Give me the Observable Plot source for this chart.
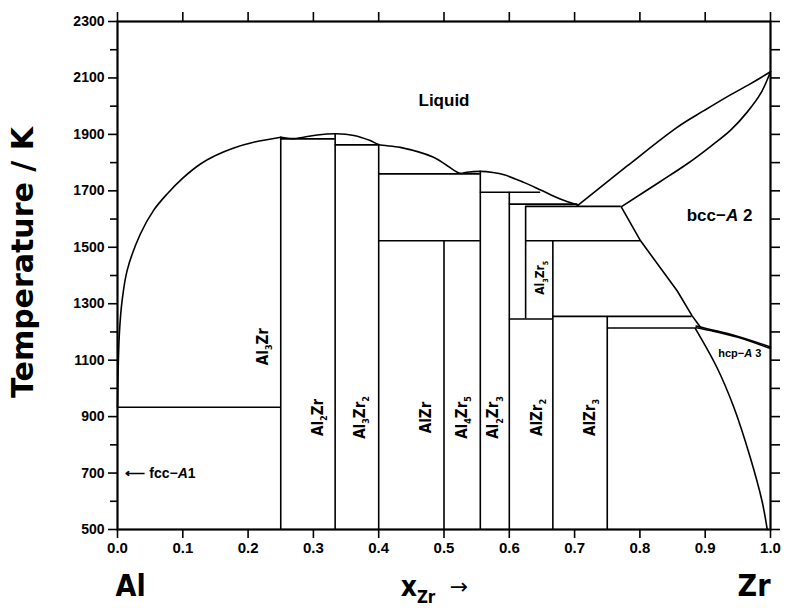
<!DOCTYPE html>
<html><head><meta charset="utf-8">
<script src="https://cdn.jsdelivr.net/npm/d3@7"></script>
<script src="https://cdn.jsdelivr.net/npm/@observablehq/plot@0.6"></script>
<style>body{margin:0;background:#fff;}</style>
</head><body><div id="chart"></div>
<script>
// ---- data (x = mole fraction Zr, T = temperature / K) ----
const liquidusAl = [[0,933],[0.001,1070],[0.003,1200],[0.007,1310],[0.015,1420],[0.035,1547],[0.055,1630],[0.076,1689],[0.1,1745],[0.127,1795],[0.15,1825],[0.178,1852],[0.21,1873],[0.25,1890]];
const liquidusMid = [[0.25,1890],[0.268,1885],[0.285,1890],[0.306,1898],[0.335,1902],[0.362,1896],[0.387,1878],[0.40,1864],[0.433,1854],[0.484,1819],[0.505,1789],[0.525,1762],[0.535,1766],[0.556,1769],[0.575,1765],[0.592,1757],[0.622,1730],[0.648,1703],[0.678,1671],[0.705,1650]];
const liquidusBcc = [[0.704,1647],[0.781,1789],[0.857,1925],[0.898,1984],[0.934,2034],[0.969,2079],[1.0,2122]];
const solidusBcc = [[0.773,1646],[0.832,1734],[0.872,1795],[0.908,1857],[0.939,1915],[0.964,1978],[0.985,2045],[1.0,2122]];
const solvusBcc = [[0.771,1645],[0.801,1523],[0.857,1346],[0.88,1257],[0.893,1216]];
const bccHcpUpper = [[0.886,1221],[0.90,1213],[0.94,1191],[1.0,1147]];
const bccHcpLower = [[0.886,1215],[0.91,1204],[0.95,1181],[1.0,1141]];
const solvusHcp = [[0.885,1212],[0.918,1074],[0.944,932],[0.969,755],[0.987,601],[0.995,500]];

const compoundLines = [
  {x:0.25, t1:500, t2:1890},
  {x:0.3333, t1:500, t2:1901},
  {x:0.40, t1:500, t2:1863},
  {x:0.50, t1:500, t2:1523},
  {x:0.5556, t1:500, t2:1769},
  {x:0.60, t1:500, t2:1695},
  {x:0.625, t1:1246, t2:1645},
  {x:0.6667, t1:500, t2:1523},
  {x:0.75, t1:500, t2:1255}
];
const invariantLines = [
  {t:933, x1:0, x2:0.25},
  {t:1884, x1:0.25, x2:0.3333},
  {t:1863, x1:0.3333, x2:0.40},
  {t:1760, x1:0.40, x2:0.5556},
  {t:1523, x1:0.40, x2:0.5556},
  {t:1695, x1:0.5556, x2:0.648},
  {t:1653, x1:0.60, x2:0.705},
  {t:1645, x1:0.625, x2:0.771},
  {t:1523, x1:0.625, x2:0.801},
  {t:1246, x1:0.60, x2:0.6667},
  {t:1255, x1:0.6667, x2:0.88},
  {t:1214, x1:0.75, x2:0.886}
];

const phaseLabels = [
  {x:0.2226, t:1148, s:"Al_{3}Zr"},
  {x:0.307, t:897, s:"Al_{2}Zr"},
  {x:0.372, t:897, s:"Al_{3}Zr_{2}"},
  {x:0.473, t:897, s:"AlZr"},
  {x:0.528, t:897, s:"Al_{4}Zr_{5}"},
  {x:0.576, t:897, s:"Al_{2}Zr_{3}"},
  {x:0.643, t:897, s:"AlZr_{2}"},
  {x:0.724, t:897, s:"AlZr_{3}"}
];
const smallPhaseLabels = [{x:0.648, t:1392, s:"Al_{3}Zr_{5}"}];
const regionLabels = [
  {x:0.5, t:2020, s:"Liquid", size:17},
  {x:0.922, t:1612, s:"bcc−*A* 2", size:17}
];
const hcpLabel = [{x:0.953, t:1122, s:"hcp−*A* 3"}];
const fccLabel = [{x:0.012, t:700, s:"⟵ fcc−*A*1"}];

const xTicks = d3.range(0, 11).map(i => i / 10);
const yMajor = d3.range(500, 2301, 200);
const yMinor = d3.range(600, 2300, 200);
const yAll = d3.range(500, 2301, 100);

const lineOpts = {x: d => d[0], y: d => d[1], stroke: "black", strokeWidth: 1.6};
const curveOpts = {...lineOpts, curve: "catmull-rom"};
const narrow = "'DejaVu Sans Condensed', 'Liberation Sans Narrow', 'Liberation Sans', sans-serif";

const chart = Plot.plot({
  width: 788, height: 613,
  marginLeft: 117, marginRight: 18, marginTop: 21, marginBottom: 84,
  x: {domain: [0, 1]},
  y: {domain: [500, 2300]},
  style: {fontFamily: "'Liberation Sans', Arial, sans-serif", fontSize: "14px", fontWeight: "bold", background: "white", color: "black"},
  marks: [
    Plot.axisX({ticks: xTicks, tickFormat: d3.format(".1f"), tickSize: 9, tickPadding: 4, label: null, fontSize: 15, strokeWidth: 1.6}),
    Plot.axisX({anchor: "top", ticks: xTicks, tickFormat: () => "", tickSize: 10, label: null, strokeWidth: 1.6}),
    Plot.axisY({ticks: yMajor, tickFormat: d3.format("d"), tickSize: 9, tickPadding: 4, label: null, fontSize: 14, strokeWidth: 1.6}),
    Plot.axisY({ticks: yMinor, tickFormat: () => "", tickSize: 7, label: null, strokeWidth: 1.6}),
    Plot.axisY({anchor: "right", ticks: yAll, tickFormat: () => "", tickSize: 9, label: null, strokeWidth: 1.6}),
    Plot.frame({stroke: "black", strokeWidth: 2.2}),

    Plot.line(liquidusAl, curveOpts),
    Plot.line(liquidusMid, curveOpts),
    Plot.line(liquidusBcc, curveOpts),
    Plot.line(solidusBcc, curveOpts),
    Plot.line(solvusBcc, lineOpts),
    Plot.line(bccHcpUpper, curveOpts),
    Plot.line(bccHcpLower, curveOpts),
    Plot.line(solvusHcp, curveOpts),
    Plot.ruleX(compoundLines, {x: "x", y1: "t1", y2: "t2", stroke: "black", strokeWidth: 1.6}),
    Plot.ruleY(invariantLines, {y: "t", x1: "x1", x2: "x2", stroke: "black", strokeWidth: 1.6}),

    Plot.text(phaseLabels, {x: "x", y: "t", text: "s", rotate: -90, fontSize: 15, fontFamily: narrow}),
    Plot.text(smallPhaseLabels, {x: "x", y: "t", text: "s", rotate: -90, fontSize: 12, fontFamily: narrow}),
    Plot.text(regionLabels, {x: "x", y: "t", text: "s", fontSize: d => d.size}),
    Plot.text(hcpLabel, {x: "x", y: "t", text: "s", fontSize: 11}),
    Plot.text(fccLabel, {x: "x", y: "t", text: "s", fontSize: 14, textAnchor: "start"}),

    Plot.text(["Temperature / K"], {frameAnchor: "left", textAnchor: "middle", rotate: -90, dx: -94, dy: -13, fontSize: 30, fontFamily: "'DejaVu Sans', sans-serif", fontWeight: "bold"}),
    Plot.text(["Al"], {x: [0], frameAnchor: "bottom", dy: 66, textAnchor: "start", dx: -2, fontSize: 30, fontFamily: narrow}),
    Plot.text(["Zr"], {x: [1], frameAnchor: "bottom", dy: 66, textAnchor: "end", fontSize: 30, fontFamily: narrow}),
    Plot.text(["x_{Zr}"], {x: [0.5], frameAnchor: "bottom", dy: 66, dx: -26, fontSize: 28, fontFamily: narrow}),
    Plot.text(["→"], {x: [0.5], frameAnchor: "bottom", dy: 64, dx: 15, fontSize: 22, fontWeight: "normal", fontFamily: "'DejaVu Sans', sans-serif"})
  ]
});
document.getElementById("chart").appendChild(chart);

// rich text: *italic*, _{subscript}
const NS = "http://www.w3.org/2000/svg";
chart.querySelectorAll("text").forEach(el => {
  const s = el.textContent;
  if (!/[*_]/.test(s)) return;
  const fs = parseFloat(getComputedStyle(el).fontSize) || 13;
  while (el.firstChild) el.removeChild(el.firstChild);
  const re = /\*([^*]+)\*|_\{([^}]+)\}|([^*_]+)/g;
  let m, shift = 0;
  while ((m = re.exec(s))) {
    const ts = document.createElementNS(NS, "tspan");
    if (m[1]) {
      ts.textContent = m[1];
      ts.setAttribute("font-style", "italic");
      if (shift) { ts.setAttribute("dy", -shift); shift = 0; }
    } else if (m[2]) {
      ts.textContent = m[2];
      ts.setAttribute("font-size", (fs * 0.6) + "px");
      const d = fs * 0.28;
      ts.setAttribute("dy", d - shift);
      shift = d;
    } else {
      ts.textContent = m[3];
      if (shift) { ts.setAttribute("dy", -shift); shift = 0; }
    }
    el.appendChild(ts);
  }
});
</script>
</body></html>
